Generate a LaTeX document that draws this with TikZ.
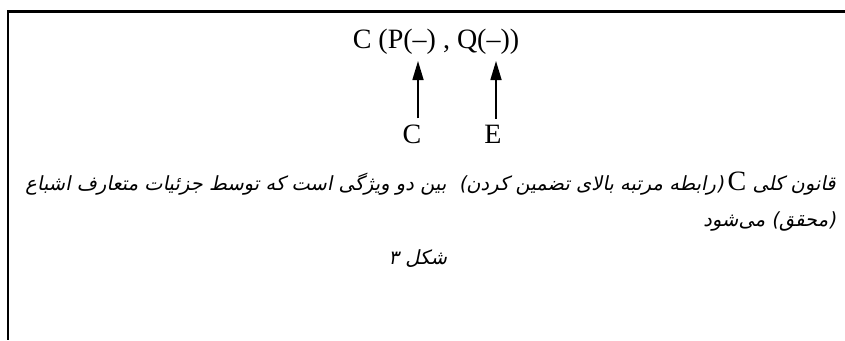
\documentclass[tikz,border=0pt]{standalone}
\usepackage{fontspec}
\setmainfont{Liberation Serif}
\newfontfamily\farsifont[Script=Arabic,FakeSlant=0.2]{DejaVu Sans}
\TeXXeTstate=1
\usetikzlibrary{arrows.meta}

\begin{document}
\begin{tikzpicture}[x=1pt,y=-1pt,>={Triangle[length=19pt,width=11pt]},
  formula/.style={font=\fontsize{28}{30}\selectfont, inner sep=0pt},
  lettr/.style={formula, outer ysep=6pt},
  farsi/.style={font=\farsifont\fontsize{19.5}{22}\selectfont, inner sep=0pt},
  pointer/.style={->, line width=1.6pt}]
\useasboundingbox (0,0) rectangle (845,340);
% frame, open on the right and at the bottom
\draw[line width=2.2pt] (845,11.5) -- (8,11.5) -- (8,340);

% the law and what fills its places
\node[formula, anchor=base] (law) at (436,48) {C (P(–) , Q(–))};
\coordinate (tipP) at (418,61);
\coordinate (tipQ) at (496,61);
\node[lettr, anchor=base] (labC) at (412,143) {C};
\node[lettr, anchor=base] (labE) at (493,143) {E};
\draw[pointer] (labC.north -| tipP) -- (tipP);
\draw[pointer] (labE.north -| tipQ) -- (tipQ);

% caption
\node[farsi, anchor=base east] (capA) at (836,190)
  {\beginR قانون کلی {\rmfamily\fontsize{28}{30}\selectfont C}\kern4pt(رابطه مرتبه بالای تضمین کردن)\ \ بین دو ویژگی است که توسط جزئیات متعارف اشباع\endR};
\node[farsi, anchor=base east] (capB) at (836,226) {\beginR(محقق) می‌شود\endR};
\node[farsi, anchor=base] (fig) at (418,264) {\beginR شکل ۳\endR};
\end{tikzpicture}
\end{document}
